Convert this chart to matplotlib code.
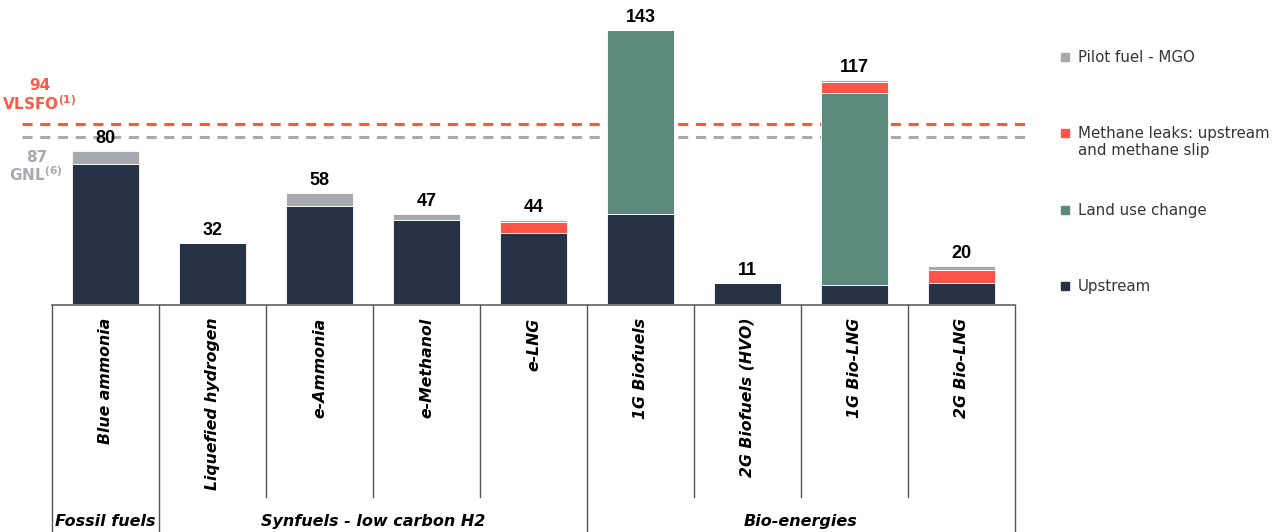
import matplotlib
matplotlib.use("Agg")
import matplotlib.pyplot as plt
from matplotlib.patches import Rectangle
import numpy as np

categories = ["Blue ammonia", "Liquefied hydrogen", "e-Ammonia", "e-Methanol", "e-LNG",
              "1G Biofuels", "2G Biofuels (HVO)", "1G Bio-LNG", "2G Bio-LNG"]
upstream = [73, 32, 51, 44, 37, 47, 11, 10, 11]
land_use = [0, 0, 0, 0, 0, 96, 0, 100, 0]
methane = [0, 0, 0, 0, 6, 0, 0, 6, 7]
pilot = [7, 0, 7, 3, 1, 0, 0, 1, 2]
totals = [80, 32, 58, 47, 44, 143, 11, 117, 20]
groups = ["Fossil fuels", "Synfuels - low carbon H2", "Bio-energies"]
group_sizes = [1, 4, 4]
ref_values = [94, 87]
ref_names = ["VLSFO", "GNL"]
ref_notes = ["(1)", "(6)"]

C_UP = "#283246"
C_LAND = "#5C8A7D"
C_METH = "#FF5448"
C_PILOT = "#A8A8AF"
C_VLSFO = "#FF5A2E"
C_GNL = "#A9A9B1"

W, H = 1278, 532
fig = plt.figure(figsize=(W / 100, H / 100), dpi=100)

x0_px, x1_px = 52, 1015
base_px = 304
ppu = 274 / 143.0
ax = fig.add_axes([x0_px / W, (H - base_px) / H, (x1_px - x0_px) / W, base_px / H])
n = len(categories)
x = np.arange(n)
ax.set_xlim(-0.5, n - 0.5)
ax.set_ylim(0, base_px / ppu)
ax.axis("off")

bw = 0.62
bottom = np.zeros(n)
for vals, col in [(upstream, C_UP), (land_use, C_LAND), (methane, C_METH), (pilot, C_PILOT)]:
    v = np.array(vals, dtype=float)
    ax.bar(x, v, bw, bottom=bottom, color=col, edgecolor="white", linewidth=0.6, zorder=3)
    bottom += v

for xi, t, top in zip(x, totals, bottom):
    ax.annotate(str(t), (xi, top), xytext=(0, 3), textcoords="offset points",
                ha="center", va="bottom", fontsize=13, fontweight="bold",
                family="Liberation Sans", color="black", zorder=5)

# reference lines
for val, col in zip(ref_values, [C_VLSFO, C_GNL]):
    ax.hlines(val, -0.78, n - 0.5 + 0.14, colors=col, linewidth=2.2,
              linestyles=(0, (3.3, 2.5)), clip_on=False, zorder=2)

txt_col = ["#FF5A46", C_GNL]
label_px = [((40, 86), (39, 104)), ((37, 157), (36, 175))]
for val, name, note, col, ((vx, vy), (nx, ny)) in zip(ref_values, ref_names, ref_notes, txt_col, label_px):
    fig.text(vx / W, (H - vy) / H, f"{val}", ha="center", va="center",
             fontsize=11, fontweight="bold", color=col)
    fig.text(nx / W, (H - ny) / H, name + r"$^{\mathbf{" + note + "}}$", ha="center", va="center",
             fontsize=11, fontweight="bold", color=col)

# category table below
tab = fig.add_axes([x0_px / W, 0, (x1_px - x0_px) / W, (H - base_px) / H])
tab.set_xlim(-0.5, n - 0.5)
tab.set_ylim(0, 1)
tab.axis("off")
lc = "#555555"
tab.plot([-0.5, n - 0.5], [0.995, 0.995], color=lc, lw=1.1, clip_on=False)
edges = np.cumsum([0] + group_sizes) - 0.5
for b in np.arange(n + 1) - 0.5:
    full = np.any(np.isclose(b, edges))
    tab.plot([b, b], [0.995, -0.01 if full else 0.155], color=lc, lw=1.0, clip_on=False)
for xi, c in zip(x, categories):
    tab.text(xi, 0.94, c, rotation=90, ha="center", va="top", fontsize=11.3,
             fontweight="bold", style="italic", color="black")
start = 0
for g, s in zip(groups, group_sizes):
    tab.text(start + (s - 1) / 2, 0.048, g, ha="center", va="center", fontsize=11.5,
             fontweight="bold", style="italic", color="black")
    start += s

# legend
leg_items = [("Pilot fuel - MGO", C_PILOT, 57), ("Methane leaks: upstream\nand methane slip", C_METH, 142),
             ("Land use change", C_LAND, 210), ("Upstream", C_UP, 286)]
for label, col, ypx in leg_items:
    first_y = ypx - (9 if "\n" in label else 0)
    fig.patches.append(Rectangle((1061 / W, (H - first_y - 4) / H), 8 / W, 8 / H,
                                 transform=fig.transFigure, color=col, figure=fig))
    fig.text(1078 / W, (H - ypx) / H, label, ha="left", va="center", fontsize=10.8,
             color="#353535", linespacing=1.2)

fig.savefig("out.png", dpi=100, facecolor="white")
